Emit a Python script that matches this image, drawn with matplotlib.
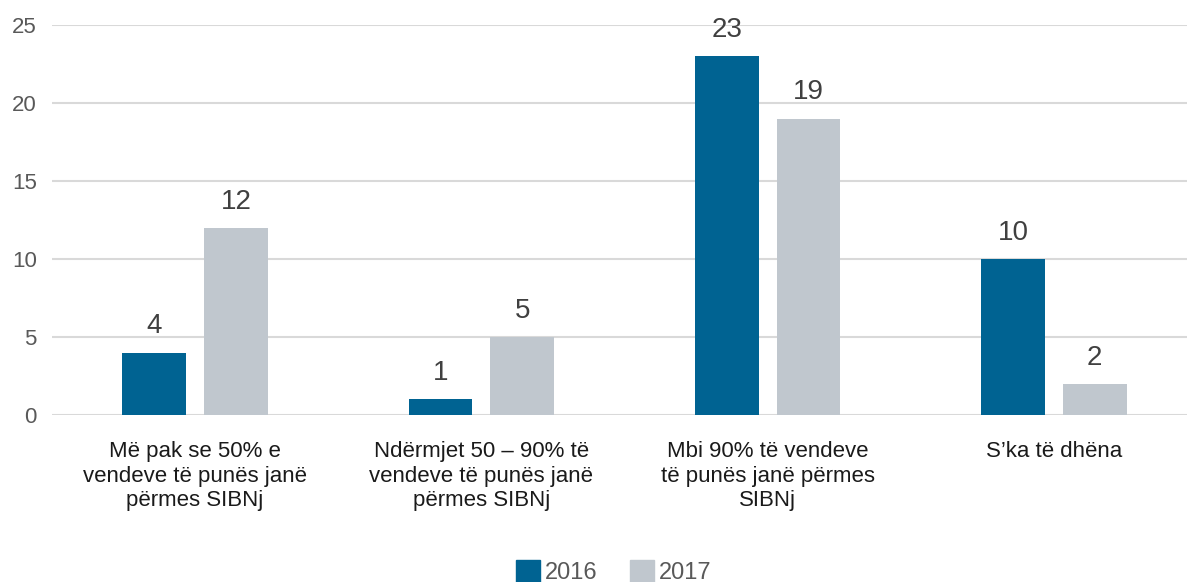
import matplotlib
matplotlib.use("Agg")
import matplotlib.pyplot as plt
import numpy as np
from matplotlib.patches import Patch

categories = ["Më pak se 50% e\nvendeve të punës janë\npërmes SIBNj",
              "Ndërmjet 50 – 90% të\nvendeve të punës janë\npërmes SIBNj",
              "Mbi 90% të vendeve\ntë punës janë përmes\nSIBNj",
              "S’ka të dhëna"]
series_names = ["2016", "2017"]
values_2016 = [4, 1, 23, 10]
values_2017 = [12, 5, 19, 2]
yticks = [0, 5, 10, 15, 20, 25]

plt.rcParams['font.family'] = ['Liberation Sans', 'DejaVu Sans']
W, H = 1187, 582
fig = plt.figure(figsize=(W/100, H/100), dpi=100)
left = 52 / W
right = 1197 / W
bottom = 1 - 415 / H
top = 1 - 25 / H
ax = fig.add_axes([left, bottom, right - left, top - bottom])

c1 = "#006392"
c2 = "#C0C7CE"
x = np.arange(len(categories))
bw = 0.223
off = 0.143
b1 = ax.bar(x - off, values_2016, bw, color=c1, zorder=3)
b2 = ax.bar(x + off, values_2017, bw, color=c2, zorder=3)
for bars in (b1, b2):
    for r in bars:
        ax.text(r.get_x() + r.get_width()/2, r.get_height() + 0.85, f"{int(r.get_height())}",
                ha="center", va="bottom", fontsize=20, color="#404040")

ax.set_xlim(-0.5, 3.5)
ax.set_ylim(0, 25)
ax.set_yticks(yticks)
ax.yaxis.grid(True, color="#D9D9D9", linewidth=1.5, zorder=0)
ax.set_axisbelow(True)
for s in ax.spines.values():
    s.set_visible(False)
ax.tick_params(axis="y", length=0, labelsize=16, labelcolor="#595959", pad=11)
ax.tick_params(axis="x", length=0, labelsize=16, labelcolor="#1a1a1a", pad=19)
ax.set_xticks(x)
ax.set_xticklabels(categories, linespacing=1.2, va="top")

handles = [Patch(color=c1, label=series_names[0]), Patch(color=c2, label=series_names[1])]
fig.legend(handles=handles, loc="lower center", bbox_to_anchor=(0.517, -0.04), ncol=2,
           frameon=False, fontsize=17, handlelength=1.0, handleheight=1.0,
           handletextpad=0.2, columnspacing=1.4, labelcolor="#595959")

fig.savefig("out.png", dpi=100)
